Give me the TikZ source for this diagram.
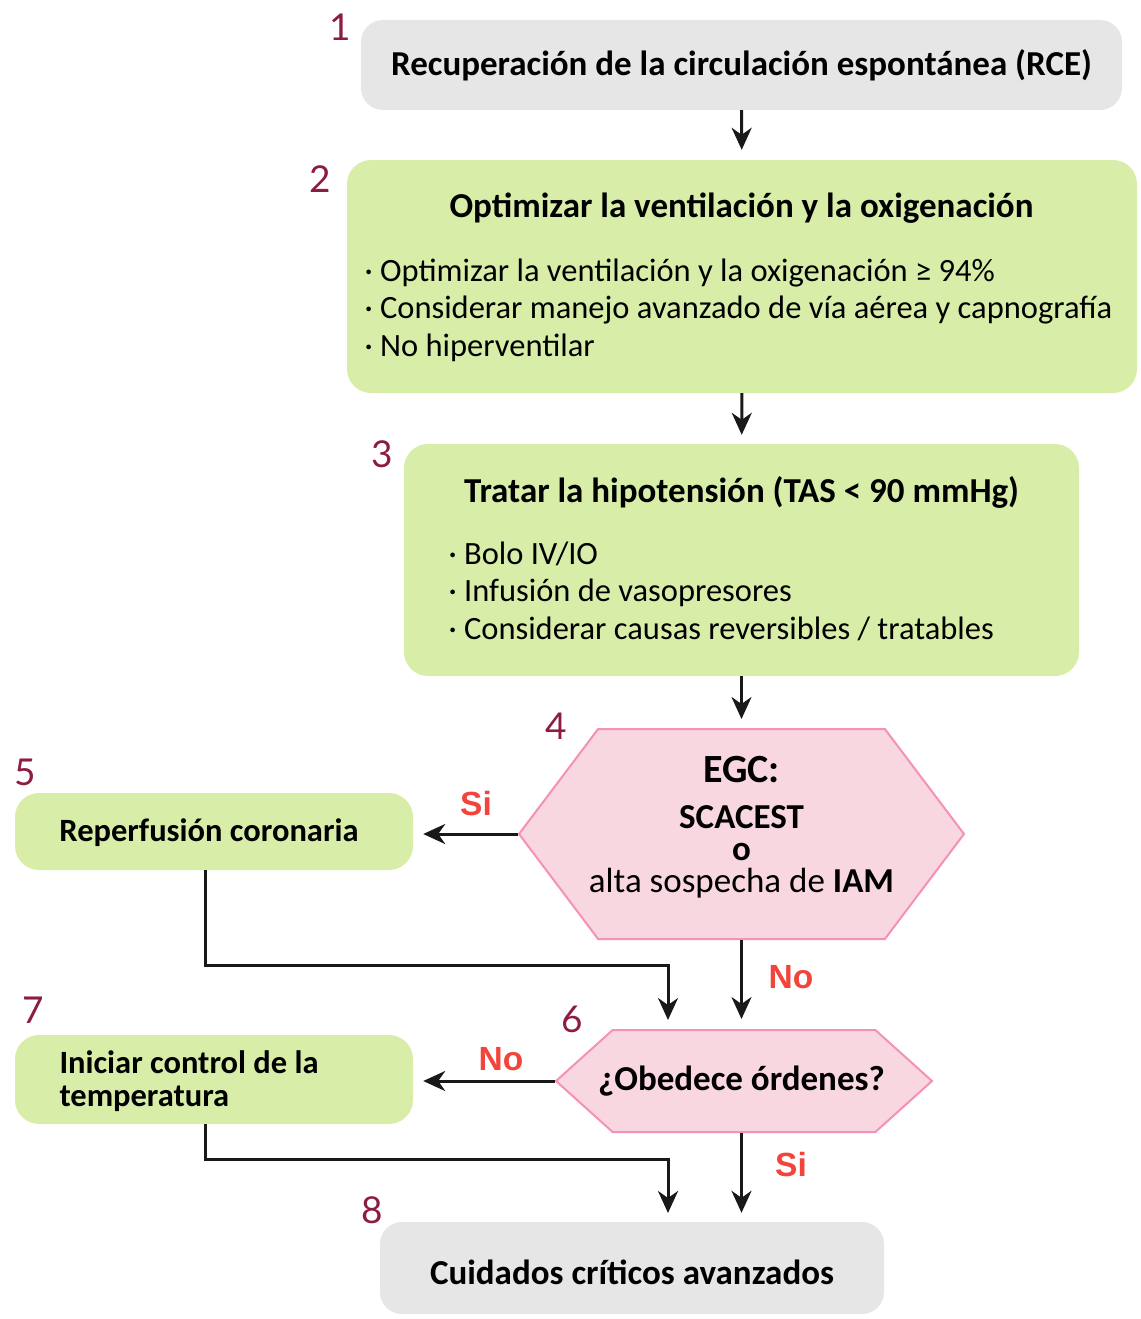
\documentclass[tikz,border=0pt]{standalone}
\usepackage{fontspec}
\setmainfont{Carlito}
\newfontfamily\numfont{Lato}
\newfontfamily\arialfont{Liberation Sans}
\usepackage{tikz}
\usetikzlibrary{calc}
\usetikzlibrary{arrows.meta}
\usetikzlibrary{shapes.symbols}
\definecolor{boxgray}{HTML}{E6E6E6}
\definecolor{boxgreen}{HTML}{D8EDA8}
\definecolor{hexfill}{HTML}{F8D7E1}
\definecolor{hexline}{HTML}{F590B6}
\definecolor{numred}{HTML}{8C1D40}
\definecolor{labred}{HTML}{F4433A}
\tikzset{
	graybox/.style={rectangle,rounded corners=22pt,fill=boxgray,inner sep=0pt},
	greenbox/.style={rectangle,rounded corners=24pt,fill=boxgreen,inner sep=0pt},
	hexbox/.style={signal,signal to=west and east,fill=hexfill,draw=hexline,line width=2pt,inner sep=0pt},
	stepnum/.style={font=\numfont\fontsize{37}{37}\selectfont,text=numred},
	title/.style={font=\bfseries\fontsize{35}{40}\selectfont},
	smalltitle/.style={font=\bfseries\fontsize{32.5}{33}\selectfont},
	bullets/.style={font=\fontsize{32.5}{37.5}\selectfont,align=left,anchor=north west},
	answer/.style={font=\arialfont\bfseries\fontsize{33.5}{33.5}\selectfont,text=labred},
	arr/.style={-{Stealth[length=22pt,width=20pt,inset=7pt]},line width=3pt,black!90}
}
\begin{document}
\begin{tikzpicture}[x=1pt,y=-1pt]
		\useasboundingbox (0,0) rectangle (1140,1319);
		% boxes
		\node[graybox,minimum width=761pt,minimum height=90pt] (b1) at (741.5,65) {};
		\node[greenbox,minimum width=790pt,minimum height=233pt] (b2) at (742,276.5) {};
		\node[greenbox,minimum width=675pt,minimum height=232pt] (b3) at (741.5,560) {};
		\node[hexbox,signal pointer angle=106,minimum width=445pt,minimum height=210pt] (h4) at (741.5,834) {};
		\node[greenbox,minimum width=398pt,minimum height=77pt] (b5) at (214,831.5) {};
		\node[hexbox,signal pointer angle=84,minimum width=376pt,minimum height=102pt] (h6) at (744,1081) {};
		\node[greenbox,minimum width=398pt,minimum height=89pt] (b7) at (214,1079.5) {};
		\node[graybox,minimum width=504pt,minimum height=92pt] (b8) at (632,1268) {};
		% texts
		\node[title] (t1) at (741.5,65) {Recuperación de la circulación espontánea (RCE)};
		\node[title] (t2) at (741.5,208) {Optimizar la ventilación y la oxigenación};
		\node[bullets] (l2) at (361,255) {· Optimizar la ventilación y la oxigenación ≥ 94\%\\· Considerar manejo avanzado de vía aérea y capnografía\\· No hiperventilar};
		\node[title] (t3) at (741.5,492) {Tratar la hipotensión (TAS < 90 mmHg)};
		\node[bullets] (l3) at (445,538) {· Bolo IV/IO\\· Infusión de vasopresores\\· Considerar causas reversibles / tratables};
		\node[font=\bfseries\fontsize{40}{40}\selectfont,inner sep=0pt] (t4a) at (741.5,770) {EGC:};
		\node[title,inner sep=0pt] (t4b) at (741.5,817) {SCACEST};
		\node[title,inner sep=0pt] (t4c) at (741.5,852) {o};
		\node[font=\fontsize{35}{35}\selectfont,inner sep=0pt] (t4d) at (741.5,883) {alta sospecha de \textbf{IAM}};
		\node[smalltitle] (t5) at (209,833) {Reperfusión coronaria};
		\node[title] (t6) at (741.5,1081) {¿Obedece órdenes?};
		\node[smalltitle,align=left,anchor=west] (t7) at (56,1081) {Iniciar control de la\\temperatura};
		\node[title] (t8) at (632,1272) {Cuidados críticos avanzados};
		% step numbers
		\node[stepnum] (n1) at (340,27) {1};
		\node[stepnum] (n2) at (320,179) {2};
		\node[stepnum] (n3) at (382,454) {3};
		\node[stepnum] (n4) at (556,726) {4};
		\node[stepnum] (n5) at (25,772) {5};
		\node[stepnum] (n6) at (572,1019) {6};
		\node[stepnum] (n7) at (33,1010) {7};
		\node[stepnum] (n8) at (372,1210) {8};
		% answers
		\node[answer] (si4) at (476,804) {Si};
		\node[answer] (no4) at (791,977) {No};
		\node[answer] (no6) at (501,1059) {No};
		\node[answer] (si6) at (791,1165) {Si};
		% connectors
		\coordinate (j5) at (668,1020);
		\coordinate (k5) at (205,965);
		\coordinate (j7) at (668,1213);
		\coordinate (k7) at (205,1159);
		\draw[arr,shorten >=10pt] (b1) -- (b2);
		\draw[arr,shorten >=9pt] (b2) -- (b3);
		\draw[arr,shorten >=9pt] (b3) -- (h4.north);
		\draw[arr,shorten >=10pt] (h4.west) -- (h4.west -| b5.east);
		\draw[arr,shorten >=10pt] (h4.south) -- (h4.south |- h6.north);
		\draw[arr,shorten >=10pt] (h6.west) -- (h6.west -| b7.east);
		\draw[arr,shorten >=9pt] (h6.south -| h4) -- (h4 |- b8.north);
		\draw[arr] (b5.south -| k5) -- (k5) -| (j5);
		\draw[arr] (b7.south -| k7) -- (k7) -| (j7);
\end{tikzpicture}
\end{document}
